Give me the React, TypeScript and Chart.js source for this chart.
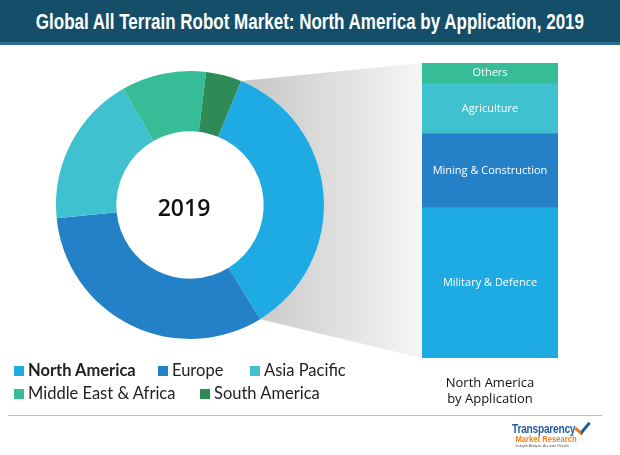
import React, { useEffect, useRef, useState } from "react";
import { Chart, registerables } from "chart.js";
Chart.register(...registerables);

const TITLE = "Global All Terrain Robot Market: North America by Application, 2019";
const regions = ["North America", "Europe", "Asia Pacific", "Middle East & Africa", "South America"];
const regionShares = [35, 32.2, 18.3, 10.2, 4.3];
const regionColors = ["#1EABE3", "#2581C7", "#3FC1D0", "#37BC98", "#2E8B55"];
const applications = ["Military & Defence", "Mining & Construction", "Agriculture", "Others"];
const appShares = [51, 25, 17, 7];
const appColors = ["#1EABE3", "#2581C7", "#3FC1D0", "#37BC98"];
const centerLabel = "2019";

const BAR_LEFT = 422;
const BAR_TOP = 63;
const TITLE_FONT = "700 22px 'Liberation Sans'";
const TITLE_WIDTH = 550;

export default function App() {
  const donutRef = useRef<HTMLCanvasElement>(null);
  const barRef = useRef<HTMLCanvasElement>(null);
  const [titleScale, setTitleScale] = useState(0.78);

  useEffect(() => {
    const m = document.createElement("canvas").getContext("2d")!;
    m.font = TITLE_FONT;
    const w = m.measureText(TITLE).width;
    if (w > 0) setTitleScale(TITLE_WIDTH / w);

    const barLabels = {
      id: "barLabels",
      afterDatasetsDraw(chart: any) {
        const ctx = chart.ctx;
        ctx.save();
        ctx.fillStyle = "#ffffff";
        ctx.font = "11px 'Open Sans'";
        ctx.textAlign = "center";
        ctx.textBaseline = "middle";
        chart.data.datasets.forEach((ds: any, i: number) => {
          const el = chart.getDatasetMeta(i).data[0];
          if (!el) return;
          const y = (el.y + el.base) / 2;
          ctx.fillText(ds.label, el.x, y);
        });
        ctx.restore();
      },
    };
    const bar = new Chart(barRef.current!, {
      type: "bar",
      data: {
        labels: ["North America"],
        datasets: applications.map((a, i) => ({
          label: a,
          data: [appShares[i]],
          backgroundColor: appColors[i],
          borderWidth: 0,
          barPercentage: 1,
          categoryPercentage: 1,
        })),
      },
      options: {
        responsive: false,
        animation: false,
        devicePixelRatio: 1,
        layout: { padding: 0 },
        plugins: { legend: { display: false }, tooltip: { enabled: false } },
        scales: {
          x: { stacked: true, display: false },
          y: { stacked: true, display: false, min: 0, max: 100 },
        },
      },
      plugins: [barLabels],
    });

    const connector = {
      id: "connector",
      beforeDatasetsDraw(chart: any) {
        const meta = chart.getDatasetMeta(0);
        const arc: any = meta.data[0];
        if (!arc) return;
        const { x, y, startAngle, endAngle, outerRadius } = arc.getProps(["x", "y", "startAngle", "endAngle", "outerRadius"], true);
        const ca = bar.chartArea;
        const bx = BAR_LEFT + ca.left;
        const bt = BAR_TOP + ca.top;
        const bb = BAR_TOP + ca.bottom;
        const ctx = chart.ctx;
        ctx.save();
        const g = ctx.createLinearGradient(x + outerRadius * 0.4, 0, bx, 0);
        g.addColorStop(0, "#c6c6c7");
        g.addColorStop(1, "#f6f6f6");
        ctx.fillStyle = g;
        ctx.beginPath();
        ctx.moveTo(x + Math.cos(startAngle) * outerRadius, y + Math.sin(startAngle) * outerRadius);
        ctx.lineTo(bx, bt);
        ctx.lineTo(bx, bb);
        ctx.lineTo(x + Math.cos(endAngle) * outerRadius, y + Math.sin(endAngle) * outerRadius);
        ctx.arc(x, y, outerRadius, endAngle, startAngle, true);
        ctx.closePath();
        ctx.fill();
        ctx.restore();
      },
      afterDatasetsDraw(chart: any) {
        const arc: any = chart.getDatasetMeta(0).data[0];
        if (!arc) return;
        const ctx = chart.ctx;
        ctx.save();
        ctx.fillStyle = "#111111";
        ctx.font = "600 23px 'Open Sans'";
        ctx.textAlign = "center";
        ctx.textBaseline = "middle";
        ctx.fillText(centerLabel, arc.x - 6, arc.y + 4);
        ctx.restore();
      },
    };

    const donut = new Chart(donutRef.current!, {
      type: "doughnut",
      data: {
        labels: regions,
        datasets: [{ data: regionShares, backgroundColor: regionColors, borderWidth: 0 }],
      },
      options: {
        responsive: false,
        animation: false,
        devicePixelRatio: 1,
        cutout: "55%",
        rotation: 22.4,
        layout: { padding: { left: 56, top: 71, right: 296, bottom: 116 } },
        plugins: { legend: { display: false }, tooltip: { enabled: false } },
      },
      plugins: [connector],
    });

    return () => {
      donut.destroy();
      bar.destroy();
    };
  }, []);

  const sq = (c: string) => (
    <span style={{ display: "inline-block", width: 10, height: 10, background: c, marginRight: 4, verticalAlign: "middle", position: "relative", top: -1 }} />
  );
  const legendRow1 = [0, 1, 2];
  const legendRow2 = [3, 4];
  const row1Left = [14, 158, 250];
  const row2Left = [14, 200];

  return (
    <div style={{ position: "absolute", left: 0, top: 0, width: 620, height: 455, background: "#ffffff", overflow: "hidden" }}>
      <div style={{ position: "absolute", left: 0, top: 0, width: 620, height: 42, background: "#144E69", borderBottom: "3px solid #2C6E8D" }}>
        <div style={{ position: "absolute", left: 0, width: 620, top: 9, display: "flex", justifyContent: "center" }}>
          <span style={{ flexShrink: 0, color: "#ffffff", font: TITLE_FONT, whiteSpace: "nowrap", transform: `scaleX(${titleScale})`, transformOrigin: "50% 50%" }}>
            {TITLE}
          </span>
        </div>
      </div>
      <canvas ref={donutRef} width={620} height={455} style={{ position: "absolute", left: 0, top: 0 }} />
      <canvas ref={barRef} width={136} height={295} style={{ position: "absolute", left: BAR_LEFT, top: BAR_TOP }} />
      {legendRow1.map((idx, k) => (
        <div key={idx} style={{ position: "absolute", left: row1Left[k], top: 360, fontFamily: "Lato", fontSize: 16.5, color: "#222", whiteSpace: "nowrap", fontWeight: idx === 0 ? 700 : 400 }}>
          {sq(regionColors[idx])}
          {regions[idx]}
        </div>
      ))}
      {legendRow2.map((idx, k) => (
        <div key={idx} style={{ position: "absolute", left: row2Left[k], top: 383, fontFamily: "Lato", fontSize: 16.5, color: "#222", whiteSpace: "nowrap" }}>
          {sq(regionColors[idx])}
          {regions[idx]}
        </div>
      ))}
      <div style={{ position: "absolute", left: 420, width: 140, top: 374, textAlign: "center", fontFamily: "'Open Sans'", fontSize: 13, lineHeight: "16px", color: "#111" }}>
        North America
        <br />
        by Application
      </div>
      <div style={{ position: "absolute", left: 8, width: 594, top: 415, height: 1, background: "#bdbdbd" }} />
      <div style={{ position: "absolute", left: 512, top: 423, fontFamily: "'Liberation Sans'", fontWeight: 700, lineHeight: 1, transform: "scaleX(0.85)", transformOrigin: "0 0" }}>
        <div style={{ fontSize: 12, color: "#1F5E9E", letterSpacing: -0.3 }}>Transparency</div>
        <div style={{ fontSize: 9, color: "#F0801E", marginLeft: 4 }}>Market Research</div>
        <div style={{ fontSize: 4, color: "#555", marginLeft: 4, fontWeight: 400 }}>In-depth Analysis. Accurate Results</div>
      </div>
      <div style={{ position: "absolute", left: 578, top: 419, width: 6, height: 12, borderRight: "3px solid #1F5E9E", borderBottom: "3px solid #F0801E", transform: "rotate(40deg)" }} />
    </div>
  );
}
